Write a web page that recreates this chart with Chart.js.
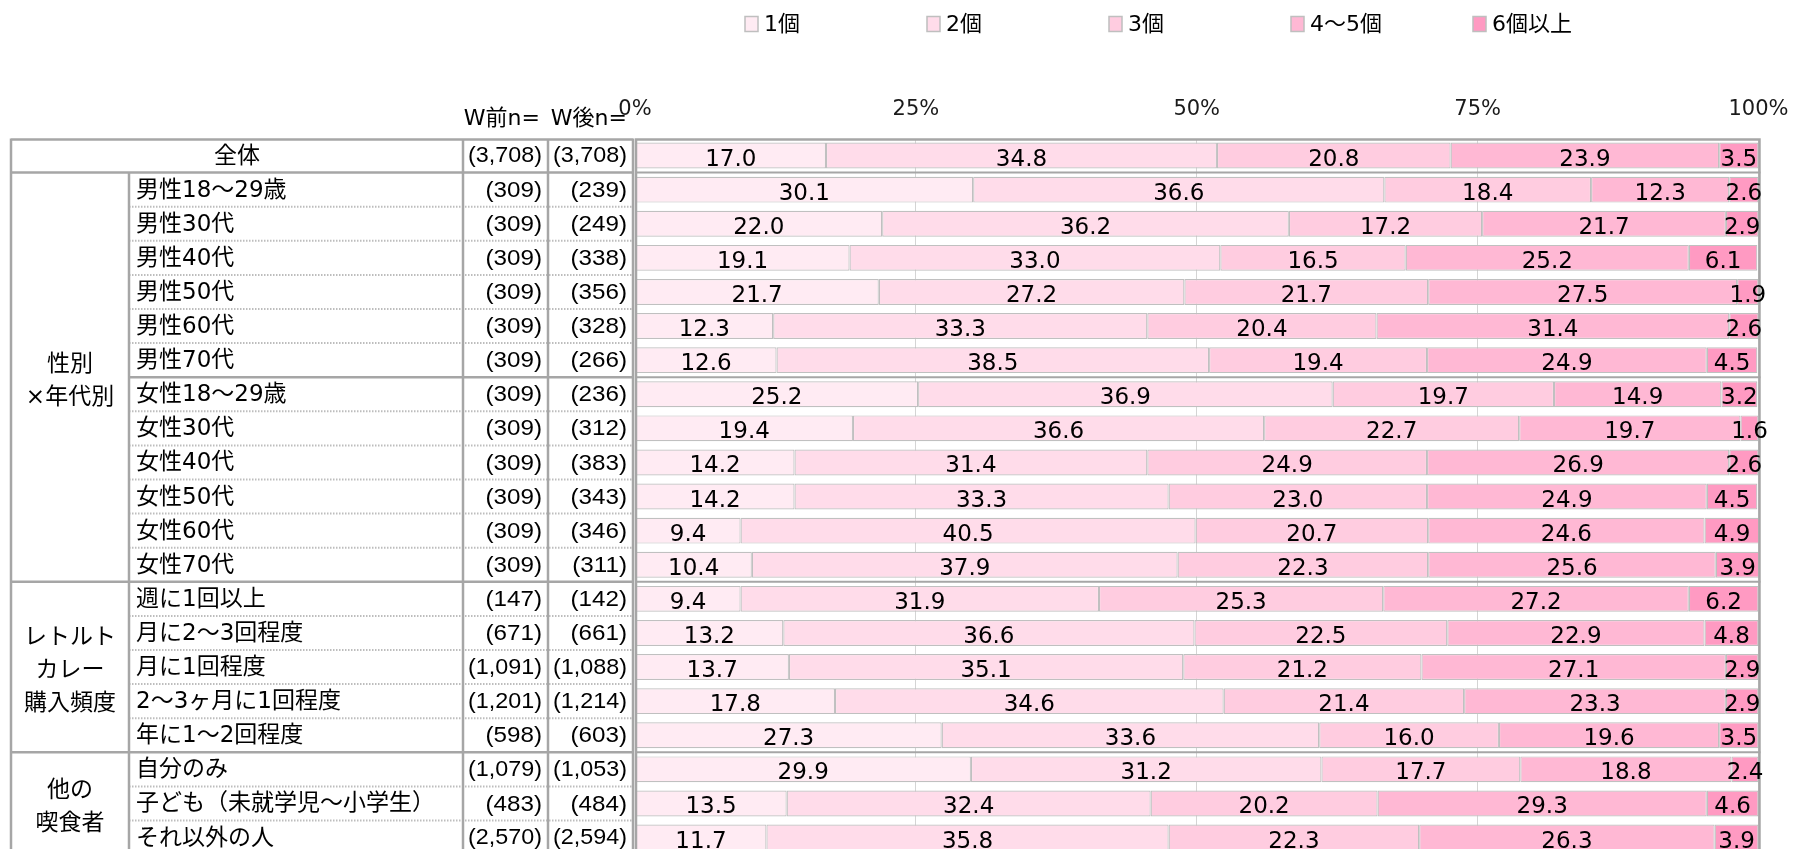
<!DOCTYPE html>
<html lang="ja">
<head>
<meta charset="utf-8">
<title>レトルトカレー 喫食個数</title>
<script src="https://cdn.jsdelivr.net/npm/chart.js@4.4.1/dist/chart.umd.min.js"></script>
<style>
  html, body { margin: 0; padding: 0; background: #fff; overflow: hidden; }
  #myChart { display: block; }
</style>
</head>
<body>
<canvas id="myChart" width="1805" height="860"></canvas>
<script>
// rows of the table (label column)
const rowLabels = [
    "全体",
    "男性18～29歳", "男性30代", "男性40代", "男性50代", "男性60代", "男性70代",
    "女性18～29歳", "女性30代", "女性40代", "女性50代", "女性60代", "女性70代",
    "週に1回以上", "月に2～3回程度", "月に1回程度", "2～3ヶ月に1回程度", "年に1～2回程度",
    "自分のみ", "子ども（未就学児～小学生）", "それ以外の人"
];
// sample sizes before / after weighting
const nBefore = [3708, 309, 309, 309, 309, 309, 309, 309, 309, 309, 309, 309, 309, 147, 671, 1091, 1201, 598, 1079, 483, 2570];
const nAfter = [3708, 239, 249, 338, 356, 328, 266, 236, 312, 383, 343, 346, 311, 142, 661, 1088, 1214, 603, 1053, 484, 2594];

// group column: name lines + first / last row
const groupNames = [["性別", "×年代別"], ["レトルト", "カレー", "購入頻度"], ["他の", "喫食者"]];
const groupFirst = [1, 13, 18];
const groupLast = [12, 17, 20];
const breakRows = [1, 7, 13, 18]; // solid lines between blocks

const seriesNames = ["1個", "2個", "3個", "4～5個", "6個以上"];
const one = [17.0, 30.1, 22.0, 19.1, 21.7, 12.3, 12.6, 25.2, 19.4, 14.2, 14.2, 9.4, 10.4, 9.4, 13.2, 13.7, 17.8, 27.3, 29.9, 13.5, 11.7];
const two = [34.8, 36.6, 36.2, 33.0, 27.2, 33.3, 38.5, 36.9, 36.6, 31.4, 33.3, 40.5, 37.9, 31.9, 36.6, 35.1, 34.6, 33.6, 31.2, 32.4, 35.8];
const three = [20.8, 18.4, 17.2, 16.5, 21.7, 20.4, 19.4, 19.7, 22.7, 24.9, 23.0, 20.7, 22.3, 25.3, 22.5, 21.2, 21.4, 16.0, 17.7, 20.2, 22.3];
const fourFive = [23.9, 12.3, 21.7, 25.2, 27.5, 31.4, 24.9, 14.9, 19.7, 26.9, 24.9, 24.6, 25.6, 27.2, 22.9, 27.1, 23.3, 19.6, 18.8, 29.3, 26.3];
const sixPlus = [3.5, 2.6, 2.9, 6.1, 1.9, 2.6, 4.5, 3.2, 1.6, 2.6, 4.5, 4.9, 3.9, 6.2, 4.8, 2.9, 2.9, 3.5, 2.4, 4.6, 3.9];
const seriesValues = [one, two, three, fourFive, sixPlus];

const xTicks = [0, 25, 50, 75, 100];

const seriesColors = ["#ffebf3", "#ffdcea", "#ffcce0", "#ffb8d4", "#ff9ac2"];
const FONT = '"DejaVu Sans", "Noto Sans CJK JP", sans-serif';
const NUM_FONT = '"Liberation Sans", Arial, sans-serif';
const LINE = "#a6a6a6";

function init() {
    const canvas = document.getElementById("myChart");

    // column edges of the left table
    const colLeft = 11, colGroup = 129, colLabel = 463, colPre = 548, colPost = 633;

    const tablePlugin = {
        id: "sideTable",
        afterDraw(chart) {
            const ctx = chart.ctx;
            const area = chart.chartArea;
            const y = chart.scales.y;
            const pitch = (area.bottom - area.top) / rowLabels.length;
            const rowTop = i => area.top + i * pitch;
            const bottom = rowTop(rowLabels.length);

            ctx.save();
            // dotted row lines
            ctx.strokeStyle = "#bdbdbd";
            ctx.lineWidth = 2;
            ctx.setLineDash([1.5, 1.5]);
            for (let i = 2; i < rowLabels.length; i++) {
                if (breakRows.includes(i)) continue;
                ctx.beginPath();
                ctx.moveTo(colGroup, rowTop(i));
                ctx.lineTo(colPost, rowTop(i));
                ctx.stroke();
            }
            ctx.setLineDash([]);

            // solid lines
            ctx.strokeStyle = LINE;
            ctx.lineWidth = 2.5;
            ctx.beginPath();
            ctx.moveTo(colLeft, area.top + 1);
            ctx.lineTo(colPost, area.top + 1);
            breakRows.forEach(r => {
                ctx.moveTo(groupFirst.includes(r) ? colLeft : colGroup, rowTop(r));
                ctx.lineTo(colPost, rowTop(r));
            });
            [colLeft, colLabel, colPre, colPost].forEach(x => {
                ctx.moveTo(x, area.top);
                ctx.lineTo(x, bottom);
            });
            ctx.moveTo(colGroup, rowTop(1));
            ctx.lineTo(colGroup, bottom);
            ctx.stroke();

            // texts
            ctx.fillStyle = "#000";
            ctx.textBaseline = "middle";
            ctx.font = "23px " + FONT;
            rowLabels.forEach((label, i) => {
                const cy = y.getPixelForValue(i) + 1;
                if (i === 0) {
                    ctx.textAlign = "center";
                    ctx.fillText(label, (colLeft + colLabel) / 2, cy);
                } else {
                    ctx.textAlign = "left";
                    ctx.fillText(label, colGroup + 7, cy);
                }
            });

            ctx.textAlign = "center";
            groupNames.forEach((lines, g) => {
                const mid = (rowTop(groupFirst[g]) + rowTop(groupLast[g] + 1)) / 2 + 4;
                lines.forEach((t, k) => {
                    ctx.fillText(t, (colLeft + colGroup) / 2, mid + (k - (lines.length - 1) / 2) * 33);
                });
            });

            // n columns, slightly wide Arial-like digits, shrunk when too long
            ctx.textAlign = "right";
            const fmt = n => "(" + n.toLocaleString("en-US") + ")";
            const cell = (text, right, cy) => {
                let size = 22;
                ctx.font = size + "px " + NUM_FONT;
                const w = ctx.measureText(text).width * 1.1;
                if (w > 74) {
                    size = size * 74 / w;
                    ctx.font = size + "px " + NUM_FONT;
                }
                ctx.save();
                ctx.translate(right - 6, cy + 1);
                ctx.scale(1.1, 1);
                ctx.fillText(text, 0, 0);
                ctx.restore();
            };
            rowLabels.forEach((_, i) => {
                const cy = y.getPixelForValue(i);
                cell(fmt(nBefore[i]), colPre, cy);
                cell(fmt(nAfter[i]), colPost, cy);
            });

            // header
            ctx.font = "22px " + FONT;
            ctx.fillText("W前n=", colPre - 8, area.top - 19);
            ctx.fillText("W後n=", colPost - 6, area.top - 19);

            // legend row, equal slots
            ctx.textAlign = "left";
            const ly = 24;
            chart.data.datasets.forEach((ds, k) => {
                const lx = area.left + 110 + k * 182;
                ctx.fillStyle = ds.backgroundColor;
                ctx.fillRect(lx, ly - 7.5, 13, 15);
                ctx.strokeStyle = "#bfbfbf";
                ctx.lineWidth = 1.5;
                ctx.strokeRect(lx, ly - 7.5, 13, 15);
                ctx.fillStyle = "#000";
                ctx.font = "22px " + FONT;
                ctx.fillText(ds.label, lx + 19, ly + 1);
            });
            ctx.restore();
        }
    };

    const barLabels = {
        id: "barLabels",
        afterDatasetsDraw(chart) {
            const ctx = chart.ctx;
            const area = chart.chartArea;
            const pitch = (area.bottom - area.top) / rowLabels.length;
            ctx.save();
            // plot frame and block separators
            ctx.strokeStyle = LINE;
            ctx.lineWidth = 2.5;
            ctx.strokeRect(area.left + 1, area.top + 1, area.right - area.left, area.bottom - area.top);
            ctx.lineWidth = 2;
            breakRows.forEach(r => {
                const yy = area.top + r * pitch;
                ctx.beginPath();
                ctx.moveTo(area.left, yy);
                ctx.lineTo(area.right + 2, yy);
                ctx.stroke();
            });

            ctx.fillStyle = "#000";
            ctx.font = "23px " + FONT;
            ctx.textAlign = "center";
            ctx.textBaseline = "middle";
            chart.data.datasets.forEach((ds, k) => {
                chart.getDatasetMeta(k).data.forEach((bar, i) => {
                    const p = bar.getProps(["x", "base", "y"], true);
                    ctx.fillText(ds.data[i].toFixed(1), (p.x + p.base) / 2, p.y + 4);
                });
            });
            ctx.restore();
        }
    };

    new Chart(canvas, {
        type: "bar",
        data: {
            labels: rowLabels,
            datasets: seriesNames.map((name, k) => ({
                label: name,
                data: seriesValues[k],
                backgroundColor: seriesColors[k],
                borderColor: "#c0c0c0",
                borderWidth: 1.2,
                borderSkipped: false,
                barPercentage: 0.76,
                categoryPercentage: 1
            }))
        },
        options: {
            indexAxis: "y",
            responsive: false,
            animation: false,
            layout: { padding: { left: 635, right: 33, top: 98.5, bottom: 5.4 } },
            scales: {
                x: {
                    position: "top",
                    stacked: true,
                    min: 0,
                    max: 100,
                    afterBuildTicks: s => { s.ticks = xTicks.map(v => ({ value: v })); },
                    afterFit: s => { s.height = 40; },
                    ticks: {
                        callback: v => v + "%",
                        color: "#1a1a1a",
                        font: { family: FONT, size: 21 },
                        padding: 16.5,
                        maxRotation: 0,
                        autoSkip: false
                    },
                    grid: { color: "#d4d4d4", lineWidth: 1, drawTicks: false },
                    border: { display: false }
                },
                y: { stacked: true, display: false }
            },
            plugins: {
                legend: { display: false },
                tooltip: { enabled: false }
            }
        },
        plugins: [barLabels, tablePlugin]
    });
}

document.addEventListener("DOMContentLoaded", init);
</script>
</body>
</html>
